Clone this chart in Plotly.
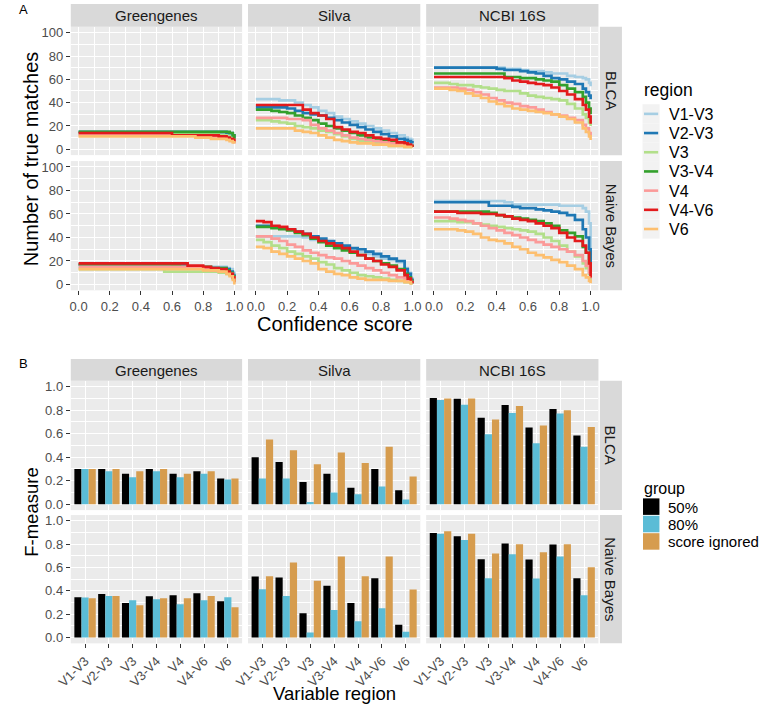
import plotly.graph_objects as go

W, H = 760, 709

REGIONS = ["V1-V3", "V2-V3", "V3", "V3-V4", "V4", "V4-V6", "V6"]
REGION_COLORS = ["#A6CEE3", "#1F78B4", "#B2DF8A", "#33A02C", "#FB9A99", "#E31A1C", "#FDBF6F"]
DATABASES = ["Greengenes", "Silva", "NCBI 16S"]
CLASSIFIERS = ["BLCA", "Naive Bayes"]
GROUPS = ["50%", "80%", "score ignored"]
GROUP_COLORS = ["#000000", "#5BBCD6", "#D69C4E"]

# confidence thresholds (x of the step curves)
CONF = [0.00, 0.05, 0.10, 0.15, 0.20, 0.25, 0.30, 0.35, 0.40, 0.45, 0.50, 0.55,
        0.60, 0.65, 0.70, 0.75, 0.80, 0.85, 0.90, 0.95, 0.97, 0.99, 1.00]

# Number of true matches, one list per region (order of REGIONS)
GG_BLCA = [
    [14, 14, 14, 14, 14, 14, 14, 14, 14, 14, 14, 14, 14, 14, 14, 14, 14, 14, 14, 13, 13, 11, 9],
    [15, 15, 15, 15, 15, 15, 15, 15, 15, 15, 15, 15, 15, 15, 15, 15, 15, 15, 15, 14, 14, 12, 10],
    [13, 13, 13, 13, 13, 13, 13, 13, 13, 13, 13, 13, 13, 13, 13, 13, 13, 13, 12, 11, 10, 8, 6],
    [15, 15, 15, 15, 15, 15, 15, 15, 15, 15, 15, 15, 15, 15, 15, 15, 15, 15, 15, 15, 14, 12, 9],
    [12, 12, 12, 12, 12, 12, 12, 12, 12, 12, 12, 12, 12, 12, 12, 12, 12, 11, 10, 9, 8, 7, 5],
    [14, 14, 14, 14, 14, 14, 14, 14, 14, 14, 14, 14, 12, 12, 12, 12, 12, 12, 11, 10, 9, 8, 6],
    [11, 11, 11, 11, 11, 11, 11, 11, 11, 11, 11, 11, 11, 11, 11, 10, 10, 9, 9, 8, 7, 6, 5],
]
SILVA_BLCA = [
    [43, 43, 43, 42, 42, 40, 38, 36, 33, 31, 28, 26, 24, 22, 20, 18, 16, 14, 12, 10, 9, 8, 6],
    [36, 36, 36, 36, 35, 33, 31, 30, 29, 27, 25, 23, 21, 19, 17, 15, 13, 11, 9, 8, 7, 6, 5],
    [25, 25, 24, 23, 22, 20, 19, 18, 16, 15, 13, 11, 9, 7, 6, 5, 4, 3, 3, 2, 2, 2, 2],
    [34, 34, 33, 32, 31, 29, 27, 25, 22, 20, 18, 16, 14, 12, 10, 9, 8, 7, 5, 4, 3, 3, 2],
    [27, 27, 27, 27, 26, 26, 25, 21, 18, 16, 14, 12, 10, 9, 8, 7, 6, 5, 4, 3, 3, 3, 3],
    [38, 38, 38, 38, 38, 38, 34, 31, 29, 26, 19, 17, 15, 14, 12, 10, 9, 8, 6, 5, 4, 3, 2],
    [18, 18, 18, 18, 18, 16, 15, 14, 12, 10, 8, 7, 6, 5, 5, 4, 4, 3, 3, 2, 2, 2, 2],
]
NCBI_BLCA = [
    [70, 70, 70, 70, 70, 70, 70, 70, 70, 69, 69, 68, 67, 67, 66, 65, 65, 63, 62, 61, 60, 57, 54],
    [70, 70, 70, 70, 70, 70, 70, 70, 69, 68, 68, 67, 66, 65, 63, 61, 60, 58, 56, 52, 49, 46, 43],
    [57, 57, 56, 55, 55, 54, 53, 52, 51, 50, 50, 48, 46, 45, 44, 43, 42, 39, 35, 30, 27, 23, 20],
    [65, 65, 65, 65, 65, 65, 65, 65, 65, 62, 62, 61, 61, 60, 59, 58, 55, 52, 49, 45, 40, 35, 30],
    [53, 53, 53, 52, 51, 49, 47, 44, 42, 40, 39, 37, 36, 34, 32, 30, 29, 27, 25, 21, 18, 14, 11],
    [62, 62, 62, 62, 62, 62, 62, 62, 62, 61, 59, 58, 57, 56, 55, 53, 50, 47, 43, 38, 34, 28, 22],
    [52, 52, 51, 50, 48, 46, 44, 41, 39, 37, 35, 34, 33, 32, 31, 30, 28, 26, 23, 18, 15, 11, 8],
]
GG_NB = [
    [15, 15, 15, 15, 15, 15, 15, 15, 15, 15, 15, 15, 15, 15, 15, 15, 15, 15, 15, 14, 13, 10, 5],
    [17, 17, 17, 17, 17, 17, 17, 17, 17, 17, 17, 17, 17, 17, 15, 14, 14, 14, 14, 13, 11, 8, 4],
    [13, 13, 13, 13, 13, 13, 13, 13, 13, 13, 13, 11, 11, 11, 11, 11, 11, 11, 10, 9, 8, 5, 2],
    [17, 17, 17, 17, 17, 17, 17, 17, 17, 17, 17, 17, 16, 15, 15, 15, 15, 14, 14, 12, 10, 7, 3],
    [15, 15, 15, 15, 15, 15, 15, 15, 15, 15, 15, 15, 15, 15, 15, 14, 13, 12, 11, 10, 9, 6, 3],
    [18, 18, 18, 18, 18, 18, 18, 18, 18, 18, 18, 18, 18, 18, 16, 16, 15, 14, 13, 11, 9, 6, 2],
    [13, 13, 13, 13, 13, 13, 13, 13, 13, 13, 13, 13, 13, 13, 13, 13, 12, 12, 11, 9, 7, 4, 0],
]
SILVA_NB = [
    [41, 41, 41, 41, 41, 41, 40, 38, 37, 35, 34, 32, 30, 28, 26, 24, 22, 21, 19, 14, 10, 5, 1],
    [50, 50, 49, 48, 47, 45, 43, 41, 39, 37, 35, 33, 31, 30, 28, 26, 24, 22, 20, 13, 9, 4, 1],
    [38, 36, 33, 31, 28, 26, 24, 22, 19, 17, 14, 12, 10, 8, 7, 6, 5, 4, 3, 2, 2, 1, 1],
    [49, 49, 48, 47, 46, 44, 42, 39, 36, 33, 31, 29, 27, 25, 22, 20, 18, 16, 13, 9, 6, 3, 1],
    [41, 41, 39, 37, 34, 32, 29, 27, 25, 23, 22, 20, 18, 16, 14, 12, 10, 8, 6, 4, 3, 2, 1],
    [54, 53, 50, 49, 47, 45, 43, 40, 37, 35, 33, 31, 28, 25, 22, 20, 17, 15, 12, 8, 5, 2, 1],
    [32, 31, 28, 26, 24, 22, 20, 18, 13, 11, 9, 8, 6, 5, 4, 4, 4, 3, 3, 2, 2, 1, 1],
]
NCBI_NB = [
    [71, 71, 71, 71, 71, 71, 71, 71, 71, 70, 68, 68, 68, 68, 68, 68, 67, 67, 67, 65, 62, 52, 25],
    [70, 70, 70, 70, 70, 70, 70, 67, 67, 67, 66, 65, 65, 64, 63, 62, 61, 59, 55, 47, 40, 30, 10],
    [54, 54, 54, 53, 53, 52, 51, 50, 49, 48, 47, 46, 45, 43, 40, 37, 33, 28, 24, 18, 14, 9, 4],
    [62, 62, 62, 62, 62, 62, 62, 61, 59, 58, 57, 56, 55, 54, 52, 50, 46, 44, 41, 32, 27, 18, 8],
    [57, 57, 56, 55, 54, 52, 50, 48, 46, 44, 42, 40, 38, 36, 34, 32, 30, 28, 25, 20, 16, 10, 5],
    [62, 62, 62, 61, 61, 61, 60, 60, 59, 58, 56, 55, 54, 52, 50, 48, 44, 40, 37, 33, 27, 18, 6],
    [47, 47, 47, 46, 45, 43, 40, 38, 37, 35, 32, 30, 27, 25, 23, 21, 19, 16, 13, 8, 6, 3, 1],
]

# F-measure, one list per group (order of GROUPS), values per region
F_GG_BLCA = [
    [0.30, 0.30, 0.26, 0.30, 0.26, 0.28, 0.22],
    [0.30, 0.28, 0.23, 0.28, 0.23, 0.26, 0.21],
    [0.30, 0.30, 0.28, 0.30, 0.26, 0.28, 0.22],
]
F_SILVA_BLCA = [
    [0.40, 0.36, 0.19, 0.26, 0.14, 0.30, 0.12],
    [0.22, 0.22, 0.02, 0.10, 0.085, 0.15, 0.04],
    [0.55, 0.46, 0.34, 0.44, 0.35, 0.49, 0.235],
]
F_NCBI_BLCA = [
    [0.905, 0.898, 0.737, 0.844, 0.654, 0.81, 0.586],
    [0.887, 0.847, 0.595, 0.776, 0.518, 0.773, 0.49],
    [0.90, 0.90, 0.722, 0.836, 0.671, 0.799, 0.657],
]
F_GG_NB = [
    [0.346, 0.374, 0.297, 0.354, 0.363, 0.38, 0.311],
    [0.343, 0.357, 0.32, 0.329, 0.286, 0.32, 0.346],
    [0.337, 0.357, 0.277, 0.337, 0.337, 0.357, 0.26],
]
F_SILVA_NB = [
    [0.523, 0.514, 0.209, 0.443, 0.297, 0.509, 0.109],
    [0.414, 0.357, 0.043, 0.237, 0.14, 0.251, 0.049],
    [0.526, 0.643, 0.486, 0.694, 0.526, 0.694, 0.411],
]
F_NCBI_NB = [
    [0.897, 0.869, 0.671, 0.806, 0.669, 0.797, 0.509],
    [0.889, 0.837, 0.509, 0.714, 0.506, 0.694, 0.363],
    [0.911, 0.889, 0.72, 0.8, 0.731, 0.8, 0.603],
]

MATCHES = [[GG_BLCA, SILVA_BLCA, NCBI_BLCA], [GG_NB, SILVA_NB, NCBI_NB]]
FMEAS = [[F_GG_BLCA, F_SILVA_BLCA, F_NCBI_BLCA], [F_GG_NB, F_SILVA_NB, F_NCBI_NB]]

# ---------------- layout geometry (pixels) ----------------
COL_X = [(57, 232), (238, 414), (420, 596)]
A_ROWS = [(25, 154), (160, 290)]
B_ROWS = [(381, 511), (516, 645)]
A_STRIP = (2, 25)
B_STRIP = (359, 381)
RSTRIP_X = (597.5, 620)
FONT = "Liberation Sans, Arial, sans-serif"


def px(x):
    return x / W


def py(y):
    return 1 - y / H


def dom_x(a, b):
    return [a / W, b / W]


def dom_y(top, bottom):
    return [1 - bottom / H, 1 - top / H]


def sfx(n):
    return "" if n == 1 else str(n)


base_axis = dict(showgrid=True, gridcolor="white", gridwidth=1.1, zeroline=False,
                 showline=False, tickcolor="#333333", ticklen=4, tickwidth=1.1,
                 tickfont=dict(size=13, color="#4D4D4D", family=FONT))


def minor(d):
    return dict(dtick=d, tick0=0, showgrid=True, gridcolor="white", gridwidth=0.55, ticks="")


fig = go.Figure()
layout = {}

# ---------------- Panel A: step curves ----------------
for r, clf in enumerate(CLASSIFIERS):
    for c, db in enumerate(DATABASES):
        n = r * 3 + c + 1
        s = sfx(n)
        layout["xaxis" + s] = dict(base_axis, domain=dom_x(*COL_X[c]), anchor="y" + s,
                                   range=[-0.05, 1.05], tickmode="linear", tick0=0, dtick=0.2,
                                   tickformat=".1f", minor=minor(0.1),
                                   showticklabels=(r == 1), ticks="outside" if r == 1 else "")
        layout["yaxis" + s] = dict(base_axis, domain=dom_y(*A_ROWS[r]), anchor="x" + s,
                                   range=[-5, 105], tickmode="linear", tick0=0, dtick=20,
                                   minor=minor(10),
                                   showticklabels=(c == 0), ticks="outside" if c == 0 else "")
        for i, reg in enumerate(REGIONS):
            fig.add_trace(go.Scatter(
                x=CONF, y=MATCHES[r][c][i], mode="lines", name=reg,
                line=dict(color=REGION_COLORS[i], width=2.7, shape="hv"),
                xaxis="x" + s, yaxis="y" + s, showlegend=False, hoverinfo="skip"))

# ---------------- Panel B: grouped bars ----------------
for r, clf in enumerate(CLASSIFIERS):
    for c, db in enumerate(DATABASES):
        n = 6 + r * 3 + c + 1
        s = sfx(n)
        layout["xaxis" + s] = dict(base_axis, domain=dom_x(*COL_X[c]), anchor="y" + s,
                                   type="category", categoryorder="array",
                                   categoryarray=REGIONS, range=[-0.6, 6.6], tickangle=-45,
                                   showticklabels=(r == 1), ticks="outside" if r == 1 else "")
        layout["yaxis" + s] = dict(base_axis, domain=dom_y(*B_ROWS[r]), anchor="x" + s,
                                   range=[-0.05, 1.05], tickmode="linear", tick0=0, dtick=0.2,
                                   tickformat=".1f", minor=minor(0.1),
                                   showticklabels=(c == 0), ticks="outside" if c == 0 else "")
        for g, grp in enumerate(GROUPS):
            fig.add_trace(go.Bar(
                x=REGIONS, y=FMEAS[r][c][g], name=grp, marker=dict(color=GROUP_COLORS[g], line=dict(width=0)),
                xaxis="x" + s, yaxis="y" + s, showlegend=False, hoverinfo="skip"))

shapes = []
annotations = []


def text(x, y, t, size, color="#1A1A1A", xanchor="center", yanchor="middle", angle=0):
    annotations.append(dict(x=px(x), y=py(y), xref="paper", yref="paper", text=t,
                            showarrow=False, xanchor=xanchor, yanchor=yanchor, textangle=angle,
                            borderpad=0, font=dict(size=size, color=color, family=FONT)))


def rect(x0, y0, x1, y1, color):
    shapes.append(dict(type="rect", xref="paper", yref="paper", x0=px(x0), x1=px(x1),
                       y0=py(y1), y1=py(y0), fillcolor=color, line=dict(width=0), layer="below"))


# strips
for strip, rows in ((A_STRIP, A_ROWS), (B_STRIP, B_ROWS)):
    for c, db in enumerate(DATABASES):
        rect(COL_X[c][0], strip[0], COL_X[c][1], strip[1], "#D9D9D9")
        text((COL_X[c][0] + COL_X[c][1]) / 2, (strip[0] + strip[1]) / 2 + 0.5, db, 15)
    for r, clf in enumerate(CLASSIFIERS):
        rect(RSTRIP_X[0], rows[r][0], RSTRIP_X[1], rows[r][1], "#D9D9D9")
        text((RSTRIP_X[0] + RSTRIP_X[1]) / 2, (rows[r][0] + rows[r][1]) / 2, clf, 15, angle=90)

# panel labels and axis titles
text(3, 8, "A", 13, color="black", xanchor="left")
text(3, 364, "B", 13, color="black", xanchor="left")
text(16, (A_ROWS[0][0] + A_ROWS[1][1]) / 2, "Number of true matches", 20, color="black", angle=-90)
text((COL_X[0][0] + COL_X[2][1]) / 2, 324, "Confidence score", 20, color="black")
text(16, (B_ROWS[0][0] + B_ROWS[1][1]) / 2, "F-measure", 18.5, color="black", angle=-90)
text((COL_X[0][0] + COL_X[2][1]) / 2, 695, "Variable region", 18.5, color="black")

# legend A (region)
text(641, 88, "region", 17.5, color="black", xanchor="left")
for i, reg in enumerate(REGIONS):
    cy = 112.5 + 19.3 * i
    rect(641, cy - 9.65, 658.5, cy + 9.65, "#F2F2F2")
    shapes.append(dict(type="line", xref="paper", yref="paper", x0=px(642.5), x1=px(657), y0=py(cy), y1=py(cy),
                       line=dict(color=REGION_COLORS[i], width=2.6)))
    text(667, cy + 0.5, reg, 16, color="black", xanchor="left")

# legend B (group)
text(641, 489, "group", 16, color="black", xanchor="left")
for g, grp in enumerate(GROUPS):
    cy = 507.5 + 17.5 * g
    rect(641.5, cy - 8.3, 658.3, cy + 8.3, GROUP_COLORS[g])
    text(666, cy + 0.5, grp, 15, color="black", xanchor="left")

fig.update_layout(
    width=W, height=H, margin=dict(l=0, r=0, t=0, b=0),
    paper_bgcolor="white", plot_bgcolor="#EBEBEB",
    showlegend=False, barmode="group", bargap=0.1, bargroupgap=0,
    font=dict(family=FONT), shapes=shapes, annotations=annotations,
    **layout)

fig.write_html("out.html", config={"displayModeBar": False},
               post_script="document.body.style.margin = '0px';")
